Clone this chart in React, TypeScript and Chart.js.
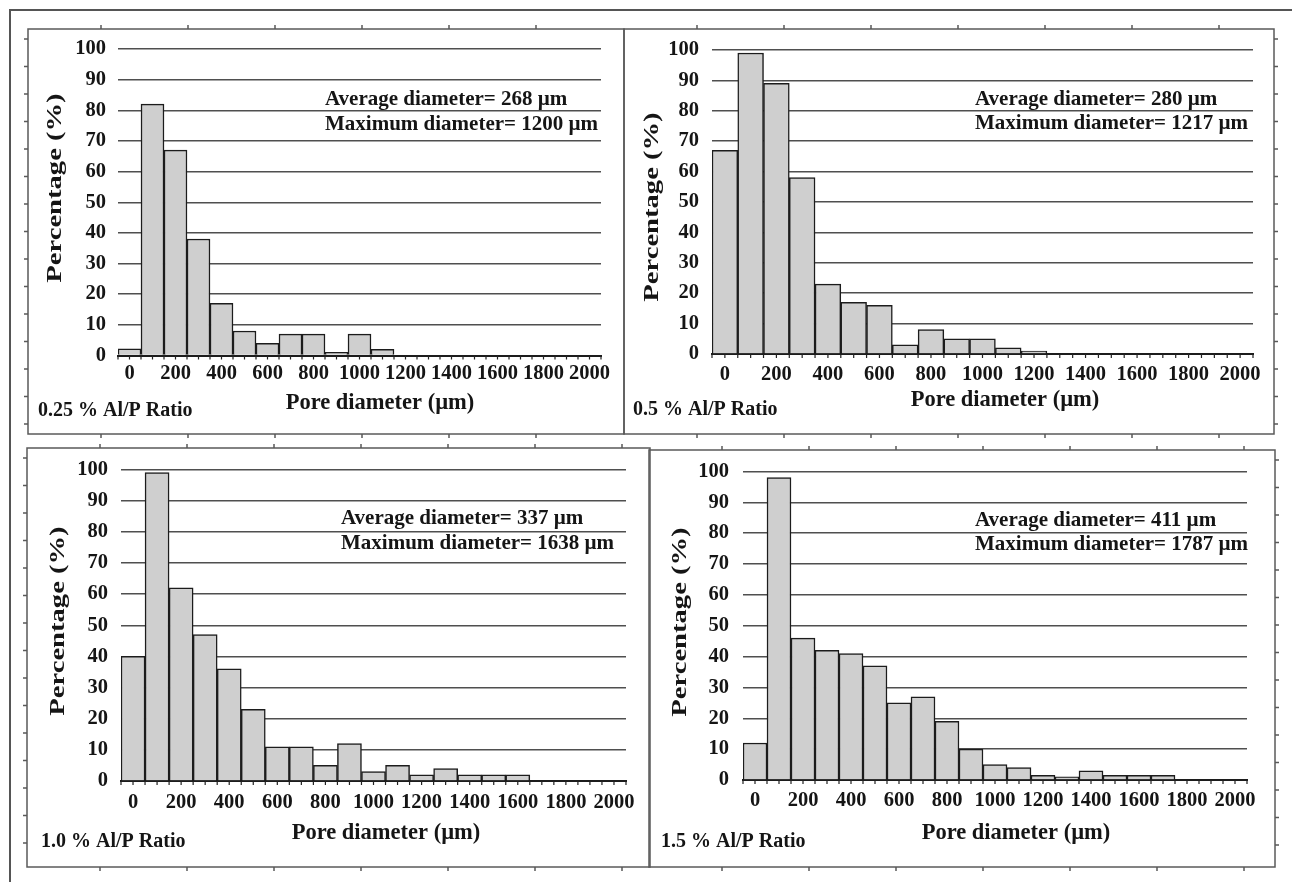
import React, { useEffect, useRef } from "react";
import { Chart, registerables } from "chart.js";

Chart.register(...registerables);

// ---------- data ----------
const binLabels = ["0", "100", "200", "300", "400", "500", "600", "700", "800", "900", "1000",
  "1100", "1200", "1300", "1400", "1500", "1600", "1700", "1800", "1900", "2000"];
const xTickLabels = ["0", "200", "400", "600", "800", "1000", "1200", "1400", "1600", "1800", "2000"];
const yTickValues = [0, 10, 20, 30, 40, 50, 60, 70, 80, 90, 100];

const pct025 = [2.2, 82, 67, 38, 17, 8, 4, 7, 7, 1, 7, 2];
const pct05 = [67, 99, 89, 58, 23, 17, 16, 3, 8, 5, 5, 2, 1];
const pct10 = [40, 99, 62, 47, 36, 23, 11, 11, 5, 12, 3, 5, 2, 4, 2, 2, 2];
const pct15 = [12, 98, 46, 42, 41, 37, 25, 27, 19, 10, 5, 4, 1.5, 1, 3, 1.5, 1.5, 1.5];

const panelNames = ["0.25 % Al/P Ratio", "0.5 % Al/P Ratio", "1.0 % Al/P Ratio", "1.5 % Al/P Ratio"];
const averageDiameters = [268, 280, 337, 411];
const maximumDiameters = [1200, 1217, 1638, 1787];
const xTitle = "Pore diameter (µm)";
const yTitle = "Percentage (%)";

const series = [pct025, pct05, pct10, pct15];

// ---------- layout (absolute page pixels) ----------
type Geo = {
  frame: [number, number, number, number]; // L T R B
  area: [number, number, number, number]; // left right top bottom of plot
  yLabelRight: number;
  xLabelY: number;
  yTitle: [number, number];
  xTitle: [number, number];
  note: [number, number, number];
  name: [number, number];
  side: "left" | "right";
};

const LAYOUT: Geo[] = [
  { frame: [28, 29, 624, 434], area: [118, 601, 49, 355.5], yLabelRight: 106, xLabelY: 374,
    yTitle: [55, 188], xTitle: [380, 403], note: [325, 99.5, 124.5], name: [38, 411], side: "left" },
  { frame: [624, 29, 1274, 434], area: [712, 1253, 50, 354], yLabelRight: 699, xLabelY: 375,
    yTitle: [652, 207], xTitle: [1005, 400], note: [975, 100, 124], name: [633, 410], side: "right" },
  { frame: [27, 448, 650, 867], area: [121, 626, 469.5, 781], yLabelRight: 108, xLabelY: 803,
    yTitle: [58, 621], xTitle: [386, 833], note: [341, 519, 544], name: [41, 842], side: "left" },
  { frame: [649, 450, 1275, 867], area: [743, 1247, 471.5, 780], yLabelRight: 729, xLabelY: 801,
    yTitle: [680, 622], xTitle: [1016, 833], note: [975, 520.5, 545], name: [661, 842], side: "right" },
];

const M = 6;
const FONT = "'Liberation Serif', 'Times New Roman', Times, serif";
const TICK_SIZE = 20.5;

function Panel({ idx }: { idx: number }) {
  const ref = useRef<HTMLCanvasElement>(null);
  const g = LAYOUT[idx];
  const [L, T, R, B] = g.frame;
  const ox = L - M;
  const oy = T - M;
  const W = R - L + 2 * M;
  const H = B - T + 2 * M;

  useEffect(() => {
    if (!ref.current) return;
    const [cl, cr, ct, cb] = g.area;
    const yWidth = cl - ox;
    const padTop = ct - oy;
    const padRight = R + M - cr;
    const xHeight = B + M - cb;

    const deco = {
      id: "deco" + idx,
      afterDraw(chart: any) {
        const ctx: CanvasRenderingContext2D = chart.ctx;
        const ca = chart.chartArea;
        ctx.save();
        // panel frame
        const fx = M, fy = M, fw = R - L, fh = B - T;
        ctx.strokeStyle = "#5a5a5a";
        ctx.lineWidth = 1.5;
        ctx.strokeRect(fx, fy, fw, fh);
        ctx.beginPath();
        for (let x = fx + 73; x < fx + fw - 10; x += 87) {
          ctx.moveTo(x, fy); ctx.lineTo(x, fy - 4);
          ctx.moveTo(x, fy + fh); ctx.lineTo(x, fy + fh + 4);
        }
        for (let y = fy + 10; y < fy + fh - 5; y += 27.5) {
          if (g.side === "left") { ctx.moveTo(fx, y); ctx.lineTo(fx - 4, y); }
          else { ctx.moveTo(fx + fw, y); ctx.lineTo(fx + fw + 4, y); }
        }
        ctx.stroke();
        // minor ticks under the x axis
        const n = binLabels.length;
        const half = (ca.right - ca.left) / n / 2;
        ctx.strokeStyle = "#222";
        ctx.lineWidth = 1.2;
        ctx.beginPath();
        for (let i = 0; i <= 2 * n; i++) {
          const x = ca.left + i * half;
          ctx.moveTo(x, ca.bottom); ctx.lineTo(x, ca.bottom + 4);
        }
        ctx.stroke();
        // texts
        ctx.fillStyle = "#151515";
        ctx.textBaseline = "middle";
        ctx.font = `bold 21px ${FONT}`;
        ctx.textAlign = "left";
        ctx.fillText(`Average diameter= ${averageDiameters[idx]} µm`, g.note[0] - ox, g.note[1] - oy);
        ctx.fillText(`Maximum diameter= ${maximumDiameters[idx]} µm`, g.note[0] - ox, g.note[2] - oy);
        ctx.font = `bold 20px ${FONT}`;
        ctx.fillText(panelNames[idx], g.name[0] - ox, g.name[1] - oy);
        ctx.font = `bold 22.5px ${FONT}`;
        ctx.textAlign = "center";
        ctx.fillText(xTitle, g.xTitle[0] - ox, g.xTitle[1] - oy);
        ctx.save();
        ctx.translate(g.yTitle[0] - ox, g.yTitle[1] - oy);
        ctx.rotate(-Math.PI / 2);
        ctx.scale(1.3, 1);
        ctx.font = `bold 22px ${FONT}`;
        ctx.fillText(yTitle, 0, 0);
        ctx.restore();
        ctx.restore();
      },
    };

    const chart = new Chart(ref.current, {
      type: "bar",
      data: {
        labels: binLabels,
        datasets: [
          {
            data: series[idx],
            backgroundColor: "#cfcfcf",
            borderColor: "#1c1c1c",
            borderWidth: 1.5,
            barPercentage: 1,
            categoryPercentage: 1,
          },
        ],
      },
      options: {
        responsive: false,
        animation: false,
        devicePixelRatio: 1,
        layout: { autoPadding: false, padding: { left: 0, top: padTop, right: padRight, bottom: 0 } },
        plugins: { legend: { display: false }, tooltip: { enabled: false } },
        scales: {
          x: {
            type: "category",
            offset: true,
            grid: { display: false, drawTicks: false },
            border: { display: true, color: "#1c1c1c", width: 2 },
            ticks: {
              autoSkip: false,
              maxRotation: 0,
              minRotation: 0,
              padding: g.xLabelY - cb - TICK_SIZE / 2,
              color: "#151515",
              font: { family: FONT, size: TICK_SIZE, weight: "bold", lineHeight: 1 },
              callback: (_v: any, i: number) => (i % 2 === 0 ? xTickLabels[i / 2] : ""),
            },
            afterFit: (s: any) => { s.height = xHeight; },
          },
          y: {
            min: 0,
            max: 100,
            grid: { color: "#4f4f4f", lineWidth: 1.5, drawTicks: false },
            border: { display: false },
            ticks: {
              padding: cl - g.yLabelRight,
              color: "#151515",
              font: { family: FONT, size: TICK_SIZE, weight: "bold", lineHeight: 1 },
            },
            afterBuildTicks: (s: any) => { s.ticks = yTickValues.map((v) => ({ value: v })); },
            afterFit: (s: any) => { s.width = yWidth; },
          },
        },
      } as any,
      plugins: [deco],
    });
    return () => chart.destroy();
  }, []);

  return (
    <canvas
      ref={ref}
      width={W}
      height={H}
      style={{ position: "absolute", left: ox, top: oy, width: W, height: H }}
    />
  );
}

export default function App() {
  return (
    <div style={{ position: "absolute", left: 0, top: 0, width: 1292, height: 882, background: "#fff", overflow: "hidden" }}>
      <div
        style={{
          position: "absolute", left: 9, top: 9, width: 1290, height: 880,
          borderTop: "2px solid #555", borderLeft: "2px solid #555",
        }}
      />
      {[0, 1, 2, 3].map((i) => (
        <Panel key={i} idx={i} />
      ))}
    </div>
  );
}
